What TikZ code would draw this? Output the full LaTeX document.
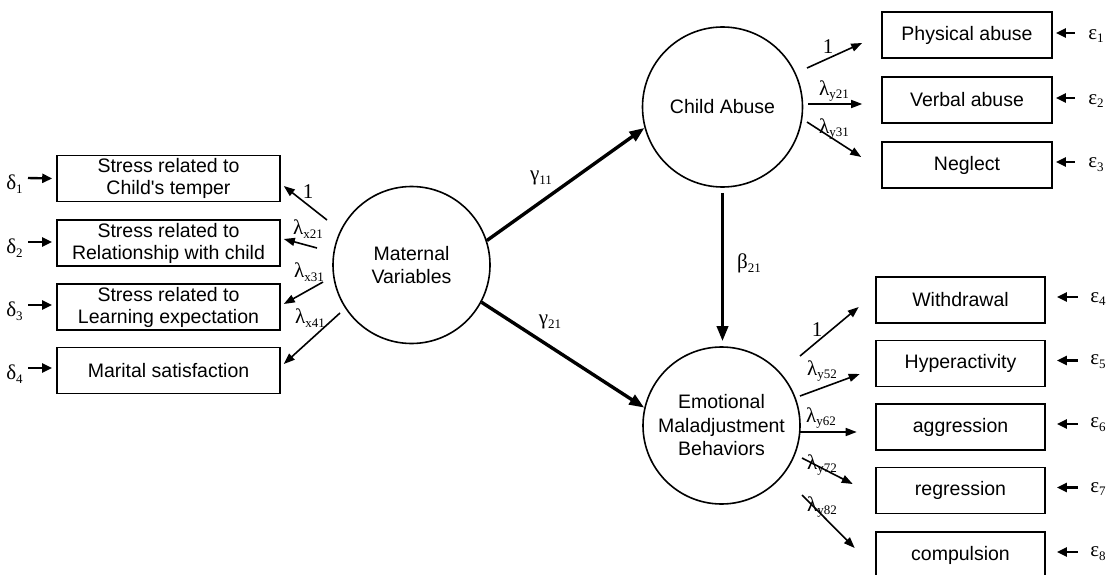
\documentclass[tikz,border=0pt]{standalone}
\usepackage{fontspec}
\setmainfont{Liberation Sans}
\newfontfamily\grk{Liberation Serif}
\usetikzlibrary{arrows.meta,calc}
\newcommand{\gl}[2]{{\grk\fontsize{21}{21}\selectfont #1\raisebox{-0.4ex}{\fontsize{13}{13}\selectfont #2}}}
\newcommand{\one}{{\grk\fontsize{21}{21}\selectfont 1}}
\begin{document}
\begin{tikzpicture}[x=1pt,y=-1pt,
  box/.style={draw,line width=1.6pt,minimum width=223pt,minimum height=46pt,inner sep=0pt,align=center,font=\fontsize{19.5}{22}\selectfont},
  ybox/.style={box,minimum width=170pt},
  zbox/.style={box,minimum width=169pt},
  lv/.style={draw,circle,line width=1.6pt,minimum size=157pt,inner sep=0pt,align=center,font=\fontsize{19.5}{23.5}\selectfont},
  str/.style={line width=3.4pt,-{Triangle[length=15pt,width=11pt]}},
  load/.style={line width=1.6pt,-{Triangle[length=11pt,width=8pt]}},
  err/.style={line width=2.4pt,-{Triangle[length=10pt,width=9pt]}},
  lab/.style={inner sep=0pt}]
\useasboundingbox (0,0) rectangle (1110,575);
\fill[white] (0,0) rectangle (1110,575);
% latent variables
\node[lv] (mat) at (411.5,265) {Maternal\\Variables};
\node[lv,minimum size=160pt] (ca) at (722.5,107) {Child Abuse};
\node[lv] (emo) at (721.5,425.5) {Emotional\\Maladjustment\\Behaviors};
% left indicators
\node[box] (x1) at (168.5,178.5) {Stress related to\\Child\textquotesingle s temper};
\node[box] (x2) at (168.5,243) {Stress related to\\Relationship with child};
\node[box] (x3) at (168.5,307) {Stress related to\\Learning expectation};
\node[box] (x4) at (168.5,370.5) {Marital satisfaction};
% top right indicators
\node[ybox] (p1) at (967,35) {Physical abuse};
\node[ybox] (p2) at (967,100) {Verbal abuse};
\node[ybox] (p3) at (967,165) {Neglect};
% bottom right indicators
\node[zbox] (w) at (960.5,300) {Withdrawal};
\node[zbox] (h) at (960.5,363.5) {Hyperactivity};
\node[zbox] (a) at (960.5,427) {aggression};
\node[zbox] (r) at (960.5,490.5) {regression};
\node[zbox] (c) at (960.5,555) {compulsion};
% structural paths
\draw[str] (mat.18) -- (ca.195);
\draw[str] (mat.-28) -- (emo.167);
\draw[str,shorten <=5pt,shorten >=5pt] (ca.south) -- (ca.south |- emo.north);
\node[lab] (g11) at (541,178) {\gl{γ}{11}};
\node[lab] (g21) at (550,322) {\gl{γ}{21}};
\node[lab] (b21) at (749,263) {\gl{β}{21}};
% left loadings
\draw[load] ([shift={(-84.5,-45)}]mat.center) -- ([shift={(3,7.5)}]x1.east);
\draw[load] ([shift={(-94.5,-17)}]mat.center) -- ([shift={(3,-4)}]x2.east);
\draw[load] ([shift={(-88.5,17)}]mat.center) -- ([shift={(3,-3)}]x3.east);
\draw[load] ([shift={(-71.5,48)}]mat.center) -- ([shift={(3,-6.5)}]x4.east);
\node[lab] (l1) at (308,192) {\one};
\node[lab] (l2) at (308,229) {\gl{λ}{x21}};
\node[lab] (l3) at (309,272) {\gl{λ}{x31}};
\node[lab] (l4) at (310,318) {\gl{λ}{x41}};
% top right loadings
\draw[load] ([shift={(84.5,-39)}]ca.center) -- ([shift={(-19,8)}]p1.west);
\draw[load] ([shift={(85.5,-3)}]ca.center) -- ([shift={(-19,4)}]p2.west);
\draw[load] ([shift={(84.5,15)}]ca.center) -- ([shift={(-20,-8)}]p3.west);
\node[lab] (m1) at (828,47) {\one};
\node[lab] (m2) at (834,91) {\gl{λ}{y21}};
\node[lab] (m3) at (834,129) {\gl{λ}{y31}};
% bottom right loadings
\draw[load] ([shift={(78.5,-69.5)}]emo.center) -- ([shift={(-16.5,7)}]w.west);
\draw[load] ([shift={(78.5,-29.5)}]emo.center) -- ([shift={(-15.5,10.5)}]h.west);
\draw[load] ([shift={(78.5,6.5)}]emo.center) -- ([shift={(-18.5,5)}]a.west);
\draw[load] ([shift={(80.5,32.5)}]emo.center) -- ([shift={(-22.5,-6.5)}]r.west);
\draw[load] ([shift={(80.5,69.5)}]emo.center) -- ([shift={(-20.5,-7)}]c.west);
\node[lab] (n1) at (817,330) {\one};
\node[lab] (n2) at (822,371) {\gl{λ}{y52}};
\node[lab] (n3) at (821,418) {\gl{λ}{y62}};
\node[lab] (n4) at (822,465) {\gl{λ}{y72}};
\node[lab] (n5) at (822,507) {\gl{λ}{y82}};
% delta errors
\node[lab] (d1) at (14.5,184) {\gl{δ}{1}};
\node[lab] (d2) at (14.5,248) {\gl{δ}{2}};
\node[lab] (d3) at (14.5,311) {\gl{δ}{3}};
\node[lab] (d4) at (14.5,374) {\gl{δ}{4}};
\draw[err] (28,178) coordinate (d1s) -- ([xshift=-4pt]x1.west);
\draw[err] (28,242) coordinate (d2s) -- ([shift={(-4,-1)}]x2.west);
\draw[err] (28,305) coordinate (d3s) -- ([shift={(-4,-2)}]x3.west);
\draw[err] (28,368) coordinate (d4s) -- ([shift={(-4,-2.5)}]x4.west);
% epsilon errors
\node[lab] (e1) at (1096,36) {\gl{ε}{1}};
\node[lab] (e2) at (1096,101) {\gl{ε}{2}};
\node[lab] (e3) at (1096,165) {\gl{ε}{3}};
\node[lab] (e4) at (1098,299) {\gl{ε}{4}};
\node[lab] (e5) at (1098,362) {\gl{ε}{5}};
\node[lab] (e6) at (1098,425) {\gl{ε}{6}};
\node[lab] (e7) at (1098,489) {\gl{ε}{7}};
\node[lab] (e8) at (1098,554) {\gl{ε}{8}};
\draw[err] ([shift={(22,-2)}]p1.east) -- ([shift={(3,-2)}]p1.east);
\draw[err] ([shift={(22,-2)}]p2.east) -- ([shift={(3,-2)}]p2.east);
\draw[err] ([shift={(22,-3)}]p3.east) -- ([shift={(3,-3)}]p3.east);
\draw[err] ([shift={(32,-3)}]w.east) -- ([shift={(11,-3)}]w.east);
\draw[err] ([shift={(32,-3)}]h.east) -- ([shift={(11,-3)}]h.east);
\draw[err] ([shift={(32,-3)}]a.east) -- ([shift={(11,-3)}]a.east);
\draw[err] ([shift={(32,-3)}]r.east) -- ([shift={(11,-3)}]r.east);
\draw[err] ([shift={(32,-3)}]c.east) -- ([shift={(11,-3)}]c.east);
\end{tikzpicture}
\end{document}
